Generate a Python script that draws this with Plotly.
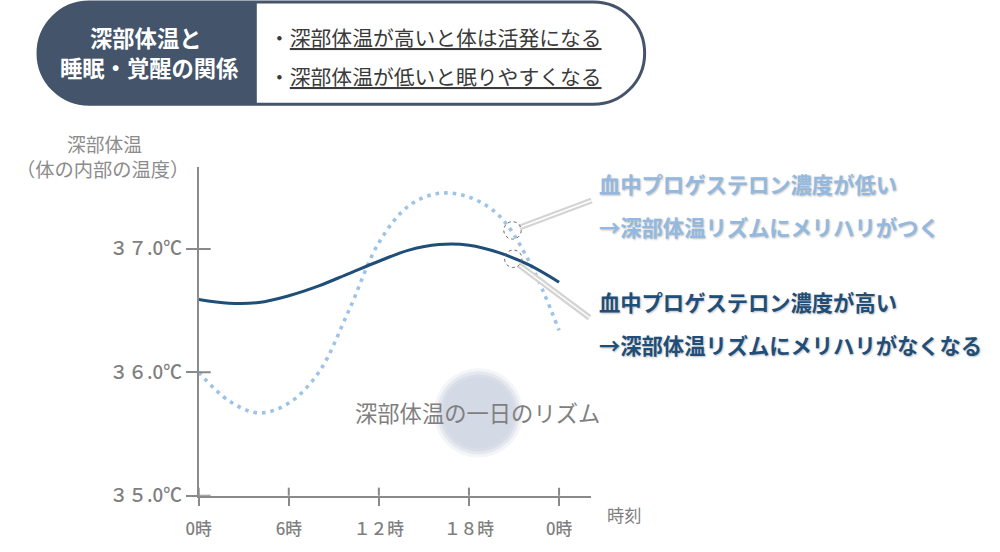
import plotly.graph_objects as go

# ---------------- data ----------------
hours = [0, 2, 4, 6, 8, 10, 12, 14, 16, 18, 20, 22, 24]
temp_high_progesterone = [36.59, 36.56, 36.565, 36.62, 36.70, 36.80, 36.90, 36.99, 37.035, 37.03, 36.97, 36.87, 36.73]
temp_low_progesterone = [36.00, 35.77, 35.67, 35.75, 36.00, 36.50, 37.05, 37.35, 37.45, 37.42, 37.27, 36.90, 36.34]

x_tick_vals = [0, 6, 12, 18, 24]
x_tick_text = ["0時", "6時", "１２時", "１８時", "0時"]
y_tick_vals = [35, 36, 37]
y_tick_text = ["３５.0℃", "３６.0℃", "３７.0℃"]

callout_hours = [20.9, 20.95]
callout_temps = [37.15, 36.92]

title_left = ["深部体温と", "睡眠・覚醒の関係"]
title_right = ["深部体温が高いと体は活発になる", "深部体温が低いと眠りやすくなる"]
note_low = ["血中プロゲステロン濃度が低い", "→深部体温リズムにメリハリがつく"]
note_high = ["血中プロゲステロン濃度が高い", "→深部体温リズムにメリハリがなくなる"]

# ---------------- layout helpers ----------------
W, H = 1000, 552
FONT = "Noto Sans CJK JP"
GRAY = "#7f7f7f"
AXIS = "#8a8a8a"
NAVY = "#1f4e79"
LIGHT = "#9dc3e6"
LIGHT_TXT = "#93b9e0"
SLATE = "#44546a"

# page -> photo calibration (observed placement of the figure in the photo)
OX, SX = 12.0, 0.986
OY, SY = 1.0, 0.976
FS = 1 / SX  # font / size compensation


def fx(x):
    return (x - OX) / SX


def fy(y):
    return (y - OY) / SY


def P(x, y):
    return fx(x) / W, 1 - fy(y) / H


def pt(x, y):
    a, b = P(x, y)
    return f"{a:.5f},{b:.5f}"


# plot area in target pixels
PX_L, PX_R, PX_T, PX_B = 197.5, 589.0, 168.0, 495.5
X_RANGE = [0, (PX_R - PX_L) / 15.0]
Y_RANGE = [35.0, 35.0 + (PX_B - PX_T) / 123.1]


def pill_paths(x0, y0, x1, y1, split):
    r = (y1 - y0) / 2
    k = 0.5523 * r
    cy = (y0 + y1) / 2
    full = (
        f"M{pt(x0 + r, y0)} L{pt(x1 - r, y0)} "
        f"C{pt(x1 - r + k, y0)} {pt(x1, cy - k)} {pt(x1, cy)} "
        f"C{pt(x1, cy + k)} {pt(x1 - r + k, y1)} {pt(x1 - r, y1)} "
        f"L{pt(x0 + r, y1)} "
        f"C{pt(x0 + r - k, y1)} {pt(x0, cy + k)} {pt(x0, cy)} "
        f"C{pt(x0, cy - k)} {pt(x0 + r - k, y0)} {pt(x0 + r, y0)} Z"
    )
    left = (
        f"M{pt(split, y0)} L{pt(x0 + r, y0)} "
        f"C{pt(x0 + r - k, y0)} {pt(x0, cy - k)} {pt(x0, cy)} "
        f"C{pt(x0, cy + k)} {pt(x0 + r - k, y1)} {pt(x0 + r, y1)} "
        f"L{pt(split, y1)} Z"
    )
    return full, left


fig = go.Figure()

fig.add_trace(go.Scatter(
    x=hours, y=temp_low_progesterone, mode="lines", line_shape="spline",
    line=dict(color=LIGHT, width=3.5 * FS, dash="3.6px,5px"), hoverinfo="skip",
))
fig.add_trace(go.Scatter(
    x=hours, y=temp_high_progesterone, mode="lines", line_shape="spline",
    line=dict(color=NAVY, width=3 * FS), hoverinfo="skip",
))

shapes = []
# title pill
full, left = pill_paths(37, 3, 643, 105, 255)
shapes.append(dict(type="path", path=full, xref="paper", yref="paper",
                   fillcolor="white", line=dict(color=SLATE, width=3), layer="below"))
shapes.append(dict(type="path", path=left, xref="paper", yref="paper",
                   fillcolor=SLATE, line=dict(color=SLATE, width=1), layer="below"))

# soft circle behind center label
cx, cy = P(477, 413)
for r, op in [(44, 0.25), (41, 0.45), (38, 0.7), (35, 1.0)]:
    shapes.append(dict(type="circle", xref="paper", yref="paper",
                       xsizemode="pixel", ysizemode="pixel", xanchor=cx, yanchor=cy,
                       x0=-r * FS, x1=r * FS, y0=-r * FS, y1=r * FS, fillcolor="#d3d9e5", opacity=op,
                       line=dict(width=0), layer="below"))

# connector lines
for (xa, ya, xb, yb) in [(518, 228, 590, 201), (517, 265, 588, 318)]:
    a0, b0 = P(xa, ya)
    a1, b1 = P(xb, yb)
    shapes.append(dict(type="line", xref="paper", yref="paper", x0=a0, y0=b0, x1=a1, y1=b1,
                       line=dict(color="#d4d4d4", width=6), layer="above"))
    shapes.append(dict(type="line", xref="paper", yref="paper", x0=a0, y0=b0, x1=a1, y1=b1,
                       line=dict(color="white", width=1.5), layer="above"))

# dotted callout circles on curves
for h, t in zip(callout_hours, callout_temps):
    shapes.append(dict(type="circle", xref="x", yref="y", xsizemode="pixel", ysizemode="pixel",
                       xanchor=h, yanchor=t, x0=-8.7, x1=8.7, y0=-8.7, y1=8.7,
                       line=dict(color="#666666", width=1, dash="dot"), layer="above"))

# inner half of crossing ticks
ybot = 1 - fy(PX_B) / H
for v in x_tick_vals:
    shapes.append(dict(type="line", xref="x", yref="paper", ysizemode="pixel", yanchor=ybot,
                       x0=v, x1=v, y0=0, y1=8, line=dict(color=AXIS, width=2)))
xleft = fx(PX_L) / W
for v in y_tick_vals:
    shapes.append(dict(type="line", xref="paper", yref="y", xsizemode="pixel", xanchor=xleft,
                       x0=0, x1=12, y0=v, y1=v, line=dict(color=AXIS, width=2)))

ann = []


def add_text(text, x, y, size, color, anchor="center", bold=False, shadow=None):
    a, b = P(x, y)
    f = dict(family=FONT, size=size * FS, color=color)
    if shadow:
        f["shadow"] = shadow
    ann.append(dict(text=f"<b>{text}</b>" if bold else text, x=a, y=b, xref="paper", yref="paper",
                    xanchor=anchor, yanchor="middle", showarrow=False, font=f))


add_text(title_left[0], 145, 38, 22, "white", bold=True)
add_text(title_left[1], 148.5, 68, 22, "white", bold=True)
add_text("・<u>" + title_right[0] + "</u>", 266, 38, 20.5, "#3a3a3a", anchor="left")
add_text("・<u>" + title_right[1] + "</u>", 266, 77, 20.5, "#3a3a3a", anchor="left")

add_text("深部体温", 103, 144, 18.5, "#8c8c8c")
add_text("（体の内部の温度）", 101, 170, 19, "#8c8c8c")
add_text("時刻", 622, 514, 17, GRAY)
add_text("深部体温の一日のリズム", 476, 412, 22, GRAY)

sh = "1px 1px 2px rgba(0,0,0,0.25)"
add_text(note_low[0], 595, 184, 21, LIGHT_TXT, anchor="left", bold=True, shadow=sh)
add_text(note_low[1], 595, 227, 21, LIGHT_TXT, anchor="left", bold=True, shadow=sh)
add_text(note_high[0], 595, 302, 21, NAVY, anchor="left", bold=True, shadow=sh)
add_text(note_high[1], 595, 345, 21, NAVY, anchor="left", bold=True, shadow=sh)

fig.update_layout(
    width=W, height=H, margin=dict(l=0, r=0, t=0, b=0, pad=0),
    paper_bgcolor="white", plot_bgcolor="rgba(0,0,0,0)", showlegend=False,
    shapes=shapes, annotations=ann,
    xaxis=dict(domain=[fx(PX_L) / W, fx(PX_R) / W], range=X_RANGE, showgrid=False, zeroline=False,
               showline=True, linecolor=AXIS, linewidth=2,
               tickmode="array", tickvals=x_tick_vals, ticktext=x_tick_text,
               ticks="outside", ticklen=8, tickwidth=2, tickcolor=AXIS,
               ticklabelstandoff=9,
               tickfont=dict(family=FONT, size=16.5 * FS, color=GRAY, weight=500), fixedrange=True),
    yaxis=dict(domain=[1 - fy(PX_B) / H, 1 - fy(PX_T) / H], range=Y_RANGE, showgrid=False, zeroline=False,
               showline=True, linecolor=AXIS, linewidth=2,
               tickmode="array", tickvals=y_tick_vals, ticktext=y_tick_text,
               ticks="outside", ticklen=11, tickwidth=2, tickcolor=AXIS,
               ticklabelstandoff=0,
               tickfont=dict(family=FONT, size=18.5 * FS, color=GRAY, weight=500), fixedrange=True),
)

fig.write_html("out.html", config={"displayModeBar": False},
               post_script="document.body.style.margin='0';document.body.style.padding='0';")
